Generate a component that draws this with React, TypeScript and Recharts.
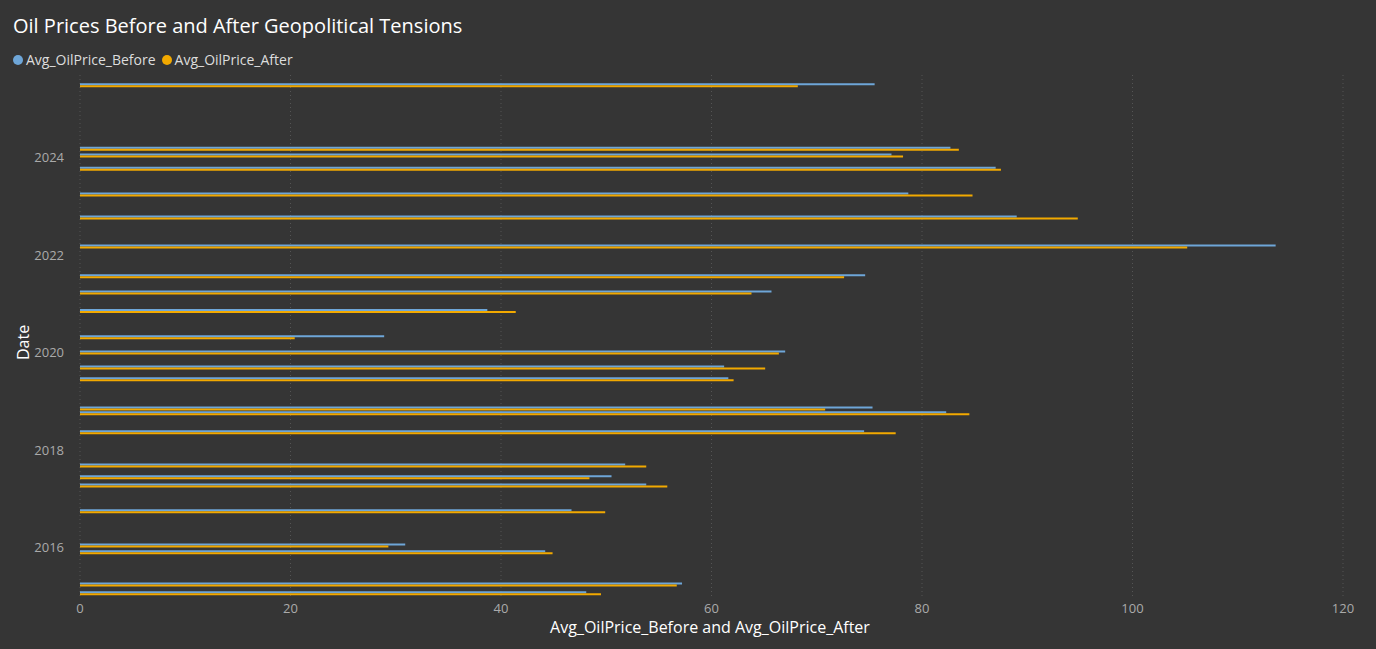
import React from 'react';
import { BarChart, Bar, XAxis, YAxis, CartesianGrid } from 'recharts';

const dates = [2025.48, 2024.18, 2024.04, 2023.77, 2023.24, 2022.77, 2022.17, 2021.56, 2021.23, 2020.85, 2020.31, 2020.0, 2019.69, 2019.45, 2018.85, 2018.75, 2018.36, 2017.68, 2017.44, 2017.27, 2016.74, 2016.04, 2015.9, 2015.24, 2015.06];
const before = [75.5, 82.7, 77.1, 87.0, 78.7, 89.0, 113.6, 74.6, 65.7, 38.7, 28.9, 67.0, 61.2, 61.6, 75.3, 82.3, 74.5, 51.8, 50.5, 53.8, 46.7, 30.9, 44.2, 57.2, 48.1];
const after = [68.2, 83.5, 78.2, 87.5, 84.8, 94.8, 105.2, 72.6, 63.8, 41.4, 20.4, 66.4, 65.1, 62.1, 70.8, 84.5, 77.5, 53.8, 48.4, 55.8, 49.9, 29.3, 44.9, 56.7, 49.5];
const yearTicks = [2016, 2018, 2020, 2022, 2024];
const xTicks = [0, 20, 40, 60, 80, 100, 120];

const data = dates.map((t, i) => ({ t, before: before[i], after: after[i] }));

const BLUE = '#6ea6d8';
const ORANGE = '#f2a900';
const FONT = '"Segoe UI", "Open Sans", "DejaVu Sans", sans-serif';

export default function App() {
  return (
    <div style={{ position: 'absolute', left: 0, top: 0, width: 1376, height: 649, background: '#353535', fontFamily: FONT }}>
      <div style={{ position: 'absolute', left: 13, top: 12, color: '#fff', fontSize: 20 }}>Oil Prices Before and After Geopolitical Tensions</div>
      <div style={{ position: 'absolute', left: 13, top: 50, color: '#ddd', fontSize: 14, display: 'flex', alignItems: 'center' }}>
        <span style={{ width: 10, height: 10, borderRadius: 5, background: BLUE, display: 'inline-block', marginRight: 3 }} />
        <span style={{ marginRight: 6 }}>Avg_OilPrice_Before</span>
        <span style={{ width: 10, height: 10, borderRadius: 5, background: ORANGE, display: 'inline-block', marginRight: 3 }} />
        <span>Avg_OilPrice_After</span>
      </div>
      <div style={{ position: 'absolute', left: 12, top: 360, color: '#fff', fontSize: 16, transform: 'rotate(-90deg)', transformOrigin: 'left top' }}>Date</div>
      <div style={{ position: 'absolute', left: 0, width: 1420, top: 616, lineHeight: '22px', textAlign: 'center', color: '#fff', fontSize: 16 }}>Avg_OilPrice_Before and Avg_OilPrice_After</div>
      <div style={{ position: 'absolute', left: 0, top: 0 }}>
        <BarChart width={1376} height={649} data={data} layout="vertical" barGap={0} barSize={2}
          margin={{ top: 75, right: 33, bottom: 0, left: 0 }}>
          <CartesianGrid horizontal={false} vertical={true} stroke="#555" strokeDasharray="1 3" />
          <XAxis type="number" domain={[0, 120]} ticks={xTicks} axisLine={false} tickLine={false}
            tick={{ fill: '#aaa', fontSize: 13, fontFamily: FONT }} height={51} tickMargin={0} />
          <YAxis type="number" dataKey="t" domain={[2014.97, 2025.7]} ticks={yearTicks} axisLine={false} tickLine={false} reversed
            tick={{ fill: '#aaa', fontSize: 13, fontFamily: FONT }} width={80} tickMargin={10} allowDataOverflow />
          <Bar dataKey="before" fill={BLUE} isAnimationActive={false} />
          <Bar dataKey="after" fill={ORANGE} isAnimationActive={false} />
        </BarChart>
      </div>
    </div>
  );
}
